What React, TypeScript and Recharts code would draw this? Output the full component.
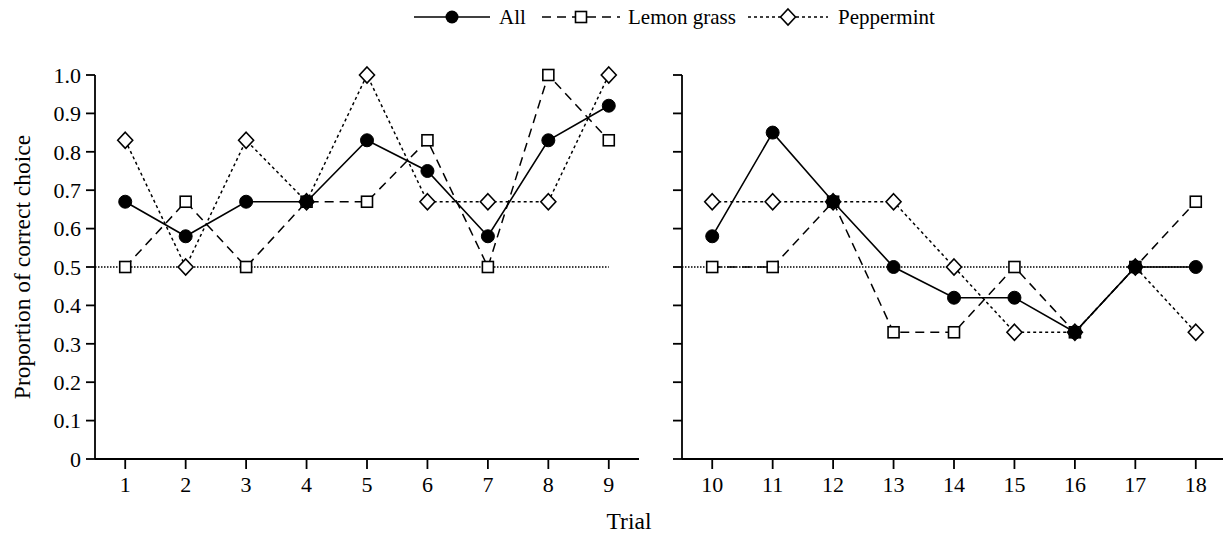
import React from "react";
import { LineChart, Line, XAxis, YAxis, ReferenceLine } from "recharts";

const trialsLeft = [1, 2, 3, 4, 5, 6, 7, 8, 9];
const allLeft = [0.67, 0.58, 0.67, 0.67, 0.83, 0.75, 0.58, 0.83, 0.92];
const lemonLeft = [0.5, 0.67, 0.5, 0.67, 0.67, 0.83, 0.5, 1.0, 0.83];
const pepperLeft = [0.83, 0.5, 0.83, 0.67, 1.0, 0.67, 0.67, 0.67, 1.0];

const trialsRight = [10, 11, 12, 13, 14, 15, 16, 17, 18];
const allRight = [0.58, 0.85, 0.67, 0.5, 0.42, 0.42, 0.33, 0.5, 0.5];
const lemonRight = [0.5, 0.5, 0.67, 0.33, 0.33, 0.5, 0.33, 0.5, 0.67];
const pepperRight = [0.67, 0.67, 0.67, 0.67, 0.5, 0.33, 0.33, 0.5, 0.33];

const yTicks = [0, 0.1, 0.2, 0.3, 0.4, 0.5, 0.6, 0.7, 0.8, 0.9, 1.0];
const chanceLevel = 0.5;

const FONT = "'Liberation Serif', 'Times New Roman', serif";
const FS = 22;
const LEGEND_FS = 21;
const LABEL_FS = 23.5;

const buildRows = (trials: number[], all: number[], lemon: number[], pepper: number[]) =>
  trials.map((t, i) => ({ trial: t, all: all[i], lemon: lemon[i], pepper: pepper[i] }));

const leftRows = buildRows(trialsLeft, allLeft, lemonLeft, pepperLeft);
const rightRows = buildRows(trialsRight, allRight, lemonRight, pepperRight);

const CircleDot = (props: any) => {
  const { cx, cy } = props;
  if (cx == null || cy == null) return <g />;
  return <circle cx={cx} cy={cy} r={6.5} fill="#000" stroke="#000" strokeWidth={1} />;
};
const SquareDot = (props: any) => {
  const { cx, cy } = props;
  if (cx == null || cy == null) return <g />;
  return <rect x={cx - 5.5} y={cy - 5.5} width={11} height={11} fill="#fff" stroke="#000" strokeWidth={1.6} />;
};
const DiamondDot = (props: any) => {
  const { cx, cy } = props;
  if (cx == null || cy == null) return <g />;
  return (
    <polygon
      points={`${cx},${cy - 8} ${cx + 7.5},${cy} ${cx},${cy + 8} ${cx - 7.5},${cy}`}
      fill="#fff"
      stroke="#000"
      strokeWidth={1.6}
    />
  );
};

const tickStyle = { fill: "#000", fontSize: FS, fontFamily: FONT };
const axisLine = { stroke: "#000", strokeWidth: 1.8 };
const tickLine = { stroke: "#000", strokeWidth: 1.8 };

const Panel = ({
  rows,
  trials,
  showLabels,
  width,
  yAxisWidth,
  marginRight,
}: {
  rows: any[];
  trials: number[];
  showLabels: boolean;
  width: number;
  yAxisWidth: number;
  marginRight: number;
}) => {
  const lo = trials[0] - 0.5;
  const hi = trials[trials.length - 1] + 0.5;
  return (
    <LineChart
      width={width}
      height={509}
      data={rows}
      margin={{ top: 75, right: marginRight, bottom: 0, left: 0 }}
    >
      <XAxis
        type="number"
        scale="linear"
        dataKey="trial"
        domain={[lo, hi]}
        ticks={trials}
        tickCount={10}
        interval={0}
        axisLine={axisLine}
        tickLine={tickLine}
        tickSize={10}
        tickMargin={7}
        tick={tickStyle}
        height={50}
      />
      <YAxis
        type="number"
        domain={[0, 1]}
        ticks={yTicks}
        interval={0}
        width={yAxisWidth}
        axisLine={axisLine}
        tickLine={tickLine}
        tickSize={9}
        tickMargin={5}
        tick={tickStyle}
        tickFormatter={(v: number) => (showLabels ? (v === 0 ? "0" : v.toFixed(1)) : "")}
      />
      <ReferenceLine
        segment={[
          { x: lo, y: chanceLevel },
          { x: trials[trials.length - 1], y: chanceLevel },
        ]}
        stroke="#000"
        strokeWidth={1.4}
        strokeDasharray="1.5 1.5"
        ifOverflow="visible"
      />
      <Line
        dataKey="pepper"
        stroke="#000"
        strokeWidth={1.5}
        strokeDasharray="3 3"
        dot={DiamondDot}
        activeDot={false}
        isAnimationActive={false}
      />
      <Line
        dataKey="lemon"
        stroke="#000"
        strokeWidth={1.5}
        strokeDasharray="9 6"
        dot={SquareDot}
        activeDot={false}
        isAnimationActive={false}
      />
      <Line
        dataKey="all"
        stroke="#000"
        strokeWidth={1.6}
        dot={CircleDot}
        activeDot={false}
        isAnimationActive={false}
      />
    </LineChart>
  );
};

const Legend = () => (
  <svg width={1223} height={40} style={{ position: "absolute", left: 0, top: 0 }}>
    <g fontFamily={FONT} fontSize={LEGEND_FS} fill="#000">
      <line x1={414} y1={17} x2={490} y2={17} stroke="#000" strokeWidth={1.6} />
      <circle cx={452} cy={17} r={6.5} fill="#000" />
      <text x={499} y={24}>All</text>
      <line x1={542} y1={17} x2={620} y2={17} stroke="#000" strokeWidth={1.5} strokeDasharray="9 6" />
      <rect x={575.5} y={11.5} width={11} height={11} fill="#fff" stroke="#000" strokeWidth={1.6} />
      <text x={628} y={24}>Lemon grass</text>
      <line x1={748} y1={17} x2={828} y2={17} stroke="#000" strokeWidth={1.5} strokeDasharray="3 3" />
      <polygon points="788,9 795.5,17 788,25 780.5,17" fill="#fff" stroke="#000" strokeWidth={1.6} />
      <text x={838} y={24}>Peppermint</text>
    </g>
  </svg>
);

export default function App() {
  return (
    <div
      style={{
        position: "absolute",
        left: 0,
        top: 0,
        width: 1223,
        height: 537,
        overflow: "hidden",
        background: "#fff",
        fontFamily: FONT,
      }}
    >
      <Legend />
      <div style={{ position: "absolute", left: 0, top: 0 }}>
        <Panel rows={leftRows} trials={trialsLeft} showLabels={true} width={650} yAxisWidth={95} marginRight={11} />
      </div>
      <div style={{ position: "absolute", left: 640, top: 0 }}>
        <Panel rows={rightRows} trials={trialsRight} showLabels={false} width={586} yAxisWidth={42} marginRight={0} />
      </div>
      <svg width={1223} height={537} style={{ position: "absolute", left: 0, top: 0, pointerEvents: "none" }}>
        <text
          x={0}
          y={0}
          transform="translate(30, 267) rotate(-90)"
          textAnchor="middle"
          fontFamily={FONT}
          fontSize={LABEL_FS}
          fill="#000"
        >
          Proportion of correct choice
        </text>
        <text x={629} y={529} textAnchor="middle" fontFamily={FONT} fontSize={LABEL_FS} fill="#000">
          Trial
        </text>
      </svg>
    </div>
  );
}
